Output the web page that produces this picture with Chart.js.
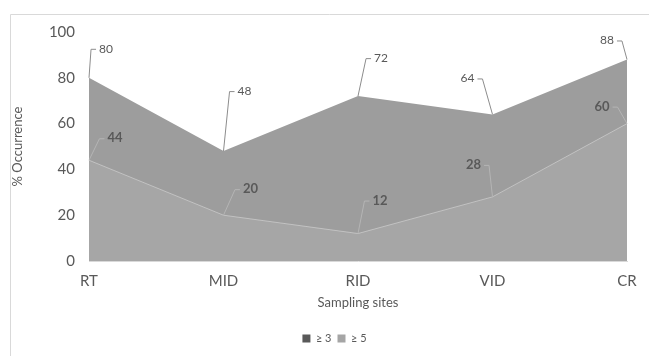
<!DOCTYPE html>
<html>
<head>
<meta charset="utf-8">
<script src="https://cdn.jsdelivr.net/npm/chart.js@4/dist/chart.umd.min.js"></script>
<style>
  html, body { margin: 0; padding: 0; background: #fff; }
  #wrap { width: 649px; height: 356px; }
</style>
</head>
<body>
<div id="wrap"><canvas id="chart" width="649" height="356"></canvas></div>
<script>
const sites = ["RT", "MID", "RID", "VID", "CR"];
const over3 = [80, 48, 72, 64, 88];
const over5 = [44, 20, 12, 28, 60];
const yTicks = [0, 20, 40, 60, 80, 100];

// label offsets (text centre relative to the point), one per point
const labelPos = {
    0: [[17, -29], [21, -60], [23, -38], [-25, -36], [-20, -19]],
    1: [[26, -22], [27, -26], [22, -33], [-19, -32], [-25, -17]],
};

const frame = {
    id: "frame",
    beforeDraw(chart) {
        const c = chart.ctx;
        c.save();
        c.strokeStyle = "#d9d9d9";
        c.lineWidth = 1;
        c.beginPath();
        c.moveTo(10.5, 356);
        c.lineTo(10.5, 14.5);
        c.lineTo(649, 14.5);
        c.stroke();
        c.restore();
    },
    afterLayout(chart) {
        // nudge the legend a bit right, like the original
        chart.legend.left += 21;
        chart.legend.right += 21;
    }
};

const leaderLabels = {
    id: "leaderLabels",
    afterDatasetsDraw(chart) {
        const c = chart.ctx;
        c.save();
        chart.data.datasets.forEach((ds, i) => {
            const meta = chart.getDatasetMeta(i);
            c.font = i === 0 ? "12px Lato" : "bold 13px Lato";
            c.fillStyle = "#595959";
            c.textAlign = "center";
            c.textBaseline = "middle";
            meta.data.forEach((pt, j) => {
                const [dx, dy] = labelPos[i][j];
                const tx = pt.x + dx, ty = pt.y + dy;
                const txt = String(ds.data[j]);
                const w = c.measureText(txt).width;
                const side = dx > 0 ? tx - w / 2 - 3 : tx + w / 2 + 3;
                const stub = dx > 0 ? side - 5 : side + 5;
                c.strokeStyle = i === 0 ? "#8c8c8c" : "#b5b5b5";
                c.lineWidth = 1;
                c.beginPath();
                c.moveTo(side, ty + 0.5);
                c.lineTo(stub, ty + 0.5);
                c.lineTo(pt.x, pt.y);
                c.stroke();
                c.fillText(txt, tx, ty);
            });
        });
        c.restore();
    }
};

new Chart(document.getElementById("chart"), {
    type: "line",
    data: {
        labels: sites,
        datasets: [
            {
                label: "≥ 3",
                data: over3,
                fill: "origin",
                backgroundColor: "#9d9d9d",
                borderWidth: 0,
                pointRadius: 0,
                tension: 0,
                order: 2,
            },
            {
                label: "≥ 5",
                data: over5,
                fill: "origin",
                backgroundColor: "#a6a6a6",
                borderColor: "rgba(255,255,255,0.35)",
                borderWidth: 1,
                pointRadius: 0,
                tension: 0,
                order: 1,
            },
        ],
    },
    options: {
        responsive: false,
        animation: false,
        layout: { padding: { top: 32, right: 22, left: 0, bottom: 2 } },
        plugins: {
            tooltip: { enabled: false },
            legend: {
                position: "bottom",
                labels: {
                    boxWidth: 8,
                    boxHeight: 8,
                    padding: 6,
                    color: "#595959",
                    font: { size: 11, family: "Lato" },
                    generateLabels(chart) {
                        const cols = ["#595959", "#a5a5a5"];
                        return chart.data.datasets.map((d, i) => ({
                            text: d.label,
                            fillStyle: cols[i],
                            strokeStyle: cols[i],
                            lineWidth: 0,
                            datasetIndex: i,
                            fontColor: "#595959",
                        }));
                    },
                },
            },
        },
        scales: {
            x: {
                offset: false,
                grid: { display: false, drawTicks: false },
                border: { color: "#d9d9d9" },
                ticks: {
                    padding: 11,
                    color: "#595959",
                    font: { size: 15, family: "Lato" },
                },
                title: {
                    display: true,
                    text: "Sampling sites",
                    color: "#595959",
                    font: { size: 13, family: "Lato" },
                    padding: { top: 4, bottom: 16 },
                },
                afterFit(scale) { scale.height = 66; },
            },
            y: {
                min: 0,
                max: 100,
                afterBuildTicks(scale) { scale.ticks = yTicks.map(v => ({ value: v })); },
                grid: { display: false, drawTicks: false },
                border: { display: false },
                ticks: {
                    padding: 14,
                    color: "#595959",
                    font: { size: 15, family: "Lato" },
                },
                title: {
                    display: true,
                    text: "% Occurrence",
                    color: "#595959",
                    font: { size: 13, family: "Lato" },
                    padding: { top: 10, bottom: 0 },
                },
                afterFit(scale) { scale.width = 89; },
            },
        },
    },
    plugins: [frame, leaderLabels],
});
</script>
</body>
</html>
